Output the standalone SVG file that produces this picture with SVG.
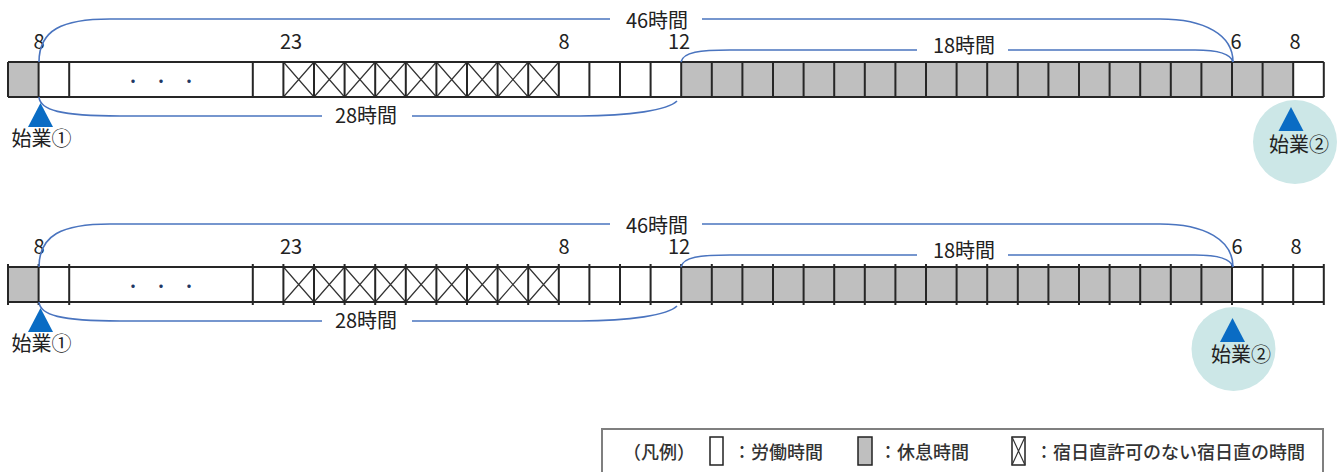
<svg xmlns="http://www.w3.org/2000/svg" xmlns:xlink="http://www.w3.org/1999/xlink" width="1341" height="472" viewBox="0 0 1341 472">
<style>
.grid{fill:none;stroke:#262626;stroke-width:2}
.gray{fill:#bfbfbf}
.white{fill:#ffffff}
.xl{fill:none;stroke:#333;stroke-width:1.2}
.br{fill:none;stroke:#4a74bf;stroke-width:1.6}
.lbl{font-family:"Noto Sans CJK JP","Noto Sans",sans-serif;font-size:20px;fill:#222;text-anchor:middle}
.dots{font-family:"Noto Sans CJK JP",sans-serif;font-size:16px;fill:#1f3864;text-anchor:middle}
.tri{fill:#0a6cc4}
.halo{fill:#cce7e7}
.leg{font-family:"Noto Sans CJK JP","Noto Sans",sans-serif;font-size:18px;font-weight:500;fill:#333}
.lbox{fill:none;stroke:#7f7f7f;stroke-width:2}
.lsw{stroke:#222;stroke-width:1.5}
</style>
<defs>
<path id="xc" class="xl" d="M0 0L30.6 35M30.6 0L0 35"/>
<path id="tr" class="tri" d="M0 0L12.5 24H-12.5Z"/>
</defs>
<rect width="1341" height="472" fill="#fff"/>

<g id="timeline1">
<rect class="white" x="8" y="62" width="1315.8" height="35"/>
<rect class="gray" x="8" y="62" width="30.6" height="35"/>
<rect class="gray" x="681.2" y="62" width="612" height="35"/>
<use xlink:href="#xc" x="283.4" y="62"/><use xlink:href="#xc" x="314" y="62"/><use xlink:href="#xc" x="344.6" y="62"/>
<use xlink:href="#xc" x="375.2" y="62"/><use xlink:href="#xc" x="405.8" y="62"/><use xlink:href="#xc" x="436.4" y="62"/>
<use xlink:href="#xc" x="467" y="62"/><use xlink:href="#xc" x="497.6" y="62"/><use xlink:href="#xc" x="528.2" y="62"/>
<path class="grid" d="M8 62H1323.8M8 97H1323.8M8 62V97M38.6 62V97M69.2 62V97M252.8 62V97M283.4 62V97M314 62V97M344.6 62V97M375.2 62V97M405.8 62V97M436.4 62V97M467 62V97M497.6 62V97M528.2 62V97M558.8 62V97M589.4 62V97M620 62V97M650.6 62V97M681.2 62V97M711.8 62V97M742.4 62V97M773 62V97M803.6 62V97M834.2 62V97M864.8 62V97M895.4 62V97M926 62V97M956.6 62V97M987.2 62V97M1017.8 62V97M1048.4 62V97M1079 62V97M1109.6 62V97M1140.2 62V97M1170.8 62V97M1201.4 62V97M1232 62V97M1262.6 62V97M1293.2 62V97M1323.8 62V97"/>
<text class="dots" x="133 161 189" y="87">・・・</text>
</g>

<g id="labels1">
<text class="lbl" x="39" y="49">8</text>
<text class="lbl" x="291" y="49">23</text>
<text class="lbl" x="564" y="49">8</text>
<text class="lbl" x="679" y="49">12</text>
<text class="lbl" x="1236" y="49">6</text>
<text class="lbl" x="1295" y="49">8</text>
<text class="lbl" x="657" y="28">46時間</text>
<text class="lbl" x="964" y="53">18時間</text>
<text class="lbl" x="366" y="123">28時間</text>
</g>

<g id="start1a">
<use xlink:href="#tr" x="40.5" y="103"/>
<text class="lbl" x="41.5" y="146">始業①</text>
</g>
<g id="start1b">
<circle class="halo" cx="1295" cy="142" r="42"/>
<use xlink:href="#tr" x="1291" y="107"/>
<text class="lbl" x="1299" y="152">始業②</text>
</g>

<g id="timeline2">
<rect class="white" x="8" y="267" width="1315.8" height="35"/>
<rect class="gray" x="8" y="267" width="30.6" height="35"/>
<rect class="gray" x="681.2" y="267" width="550.8" height="35"/>
<use xlink:href="#xc" x="283.4" y="267"/><use xlink:href="#xc" x="314" y="267"/><use xlink:href="#xc" x="344.6" y="267"/>
<use xlink:href="#xc" x="375.2" y="267"/><use xlink:href="#xc" x="405.8" y="267"/><use xlink:href="#xc" x="436.4" y="267"/>
<use xlink:href="#xc" x="467" y="267"/><use xlink:href="#xc" x="497.6" y="267"/><use xlink:href="#xc" x="528.2" y="267"/>
<path class="grid" d="M8 267H1323.8M8 302H1323.8M8 264V305M38.6 264V305M69.2 264V305M252.8 264V305M283.4 264V305M314 264V305M344.6 264V305M375.2 264V305M405.8 264V305M436.4 264V305M467 264V305M497.6 264V305M528.2 264V305M558.8 264V305M589.4 264V305M620 264V305M650.6 264V305M681.2 264V305M711.8 264V305M742.4 264V305M773 264V305M803.6 264V305M834.2 264V305M864.8 264V305M895.4 264V305M926 264V305M956.6 264V305M987.2 264V305M1017.8 264V305M1048.4 264V305M1079 264V305M1109.6 264V305M1140.2 264V305M1170.8 264V305M1201.4 264V305M1232 264V305M1262.6 264V305M1293.2 264V305M1323.8 264V305"/>
<text class="dots" x="133 161 189" y="292">・・・</text>
</g>

<g id="labels2">
<text class="lbl" x="39" y="254">8</text>
<text class="lbl" x="291" y="254">23</text>
<text class="lbl" x="564" y="254">8</text>
<text class="lbl" x="679" y="254">12</text>
<text class="lbl" x="1237" y="254">6</text>
<text class="lbl" x="1296" y="254">8</text>
<text class="lbl" x="657" y="233">46時間</text>
<text class="lbl" x="964" y="258">18時間</text>
<text class="lbl" x="366" y="328">28時間</text>
</g>

<g id="start2a">
<use xlink:href="#tr" x="40.5" y="308"/>
<text class="lbl" x="41.5" y="351">始業①</text>
</g>
<g id="start2b">
<circle class="halo" cx="1233.5" cy="349" r="42"/>
<use xlink:href="#tr" x="1232.5" y="318"/>
<text class="lbl" x="1241" y="362">始業②</text>
</g>

<g id="connectors">
<path class="br" d="M39 62C39 30 62 19 110 19H610M702 19H1160C1205 19 1233 35 1233 62"/>
<path class="br" d="M681 62C683 52 700 50 730 50H917M1008 50H1195C1218 50 1231 54 1233 62"/>
<path class="br" d="M39 97C40 110 60 116 120 116H322M412 116H580C630 116 668 110 677 101"/>
<path class="br" d="M39 267C39 235 62 224 110 224H610M702 224H1160C1205 224 1233 240 1233 267"/>
<path class="br" d="M681 267C683 257 700 255 730 255H917M1008 255H1195C1218 255 1231 259 1233 267"/>
<path class="br" d="M39 302C40 315 60 321 120 321H322M412 321H580C630 321 668 315 677 306"/>
</g>

<g id="legend">
<rect class="lbox" x="602" y="429" width="721" height="60"/>
<text class="leg" x="623" y="459">（凡例）</text>
<rect class="lsw white" x="710" y="437" width="13" height="28"/>
<text class="leg" x="733" y="459">：労働時間</text>
<rect class="lsw gray" x="858" y="437" width="14" height="28"/>
<text class="leg" x="879" y="459">：休息時間</text>
<rect class="lsw white" x="1012" y="437" width="13" height="28"/>
<path class="xl" d="M1012 437L1025 465M1025 437L1012 465"/>
<text class="leg" x="1035" y="459">：宿日直許可のない宿日直の時間</text>
</g>
</svg>
